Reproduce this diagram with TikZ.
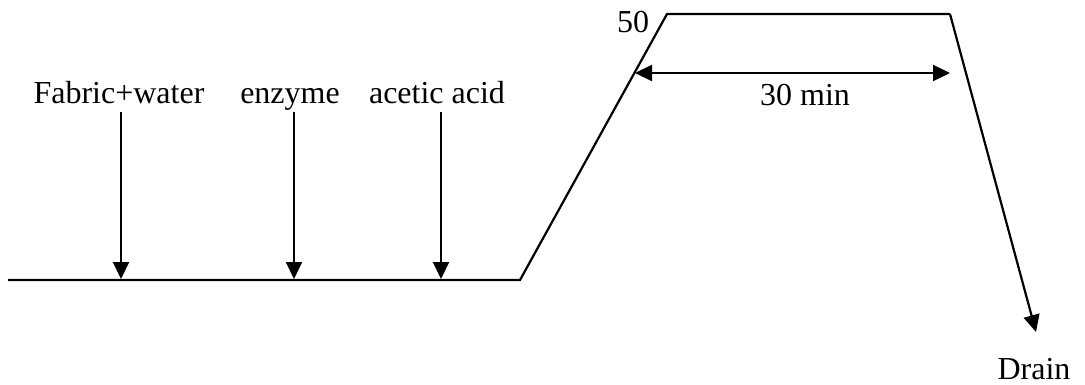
\documentclass[tikz,border=0pt]{standalone}
\usepackage{fontspec}
\setmainfont{Liberation Serif}
\usetikzlibrary{arrows.meta}
\begin{document}
\begin{tikzpicture}[x=1pt,y=1pt,
  lbl/.style={inner sep=0pt,font=\fontsize{32}{36}\selectfont},
  ln/.style={line width=2.2pt},
  tip/.tip={Triangle[width=16pt,length=17pt]},
  arr/.style={ln,-tip},
  darr/.style={ln,tip-tip}]
\useasboundingbox (0,0) rectangle (1085,-385);
% profile points
\coordinate (p0) at (8,-280);
\coordinate (p1) at (520,-280);
\coordinate (p2) at (667,-14);
\coordinate (p3) at (950,-14);
\coordinate (p4) at (1036,-332);
\draw[ln] (p0) -- (p1) -- (p2) -- (p3);
\draw[arr] (p3) -- (p4);
% additions
\node[lbl,anchor=base] (l1) at (119,-104) {Fabric+water};
\node[lbl,anchor=base] (l2) at (290,-104) {enzyme};
\node[lbl,anchor=base] (l3) at (437,-104) {acetic acid};
\coordinate (s1) at (121,-112);
\coordinate (s2) at (294,-112);
\coordinate (s3) at (441,-112);
\coordinate (t1) at (121,-279);
\coordinate (t2) at (294,-279);
\coordinate (t3) at (441,-279);
\draw[arr] (s1) -- (t1);
\draw[arr] (s2) -- (t2);
\draw[arr] (s3) -- (t3);
% hold
\node[lbl,anchor=base] (t50) at (633,-33) {50};
\coordinate (h1) at (635,-73);
\coordinate (h2) at (950,-73);
\draw[darr] (h1) -- (h2);
\node[lbl,anchor=base] (tm) at (805,-106) {30 min};
\node[lbl,anchor=base] (dr) at (1034,-379) {Drain};
\end{tikzpicture}
\end{document}
